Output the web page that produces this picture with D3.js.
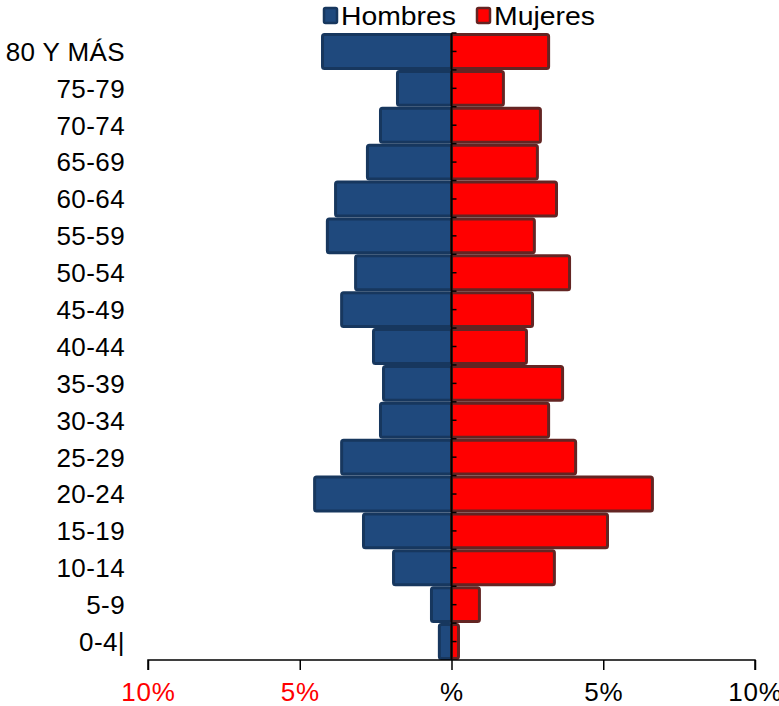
<!DOCTYPE html>
<html><head><meta charset="utf-8">
<script src="https://cdn.jsdelivr.net/npm/d3@7"></script>
<style>body{margin:0;background:#fff}svg{display:block}text{font-family:"Liberation Sans",Arial,sans-serif}</style>
</head><body><svg id="c" width="779" height="706"></svg>
<script>
const categories = ["80 Y MÁS","75-79","70-74","65-69","60-64","55-59","50-54","45-49","40-44","35-39","30-34","25-29","20-24","15-19","10-14","5-9","0-4|"];
const hombres = [4.25,1.78,2.34,2.77,3.82,4.09,3.16,3.62,2.57,2.24,2.34,3.62,4.51,2.90,1.91,0.66,0.40];
const mujeres = [3.20,1.71,2.93,2.83,3.46,2.73,3.89,2.67,2.47,3.66,3.20,4.09,6.62,5.14,3.39,0.92,0.23];
const xTicks = [-10,-5,0,5,10];
const xTickLabels = ["10%","5%","%","5%","10%"];
const seriesNames = ["Hombres","Mujeres"];

const svg = d3.select("#c");
const x = d3.scaleLinear().domain([-10,10]).range([148,755]);
const y = d3.scaleBand().domain(categories).range([33,660]).padding(0);

const colors = {Hombres:{fill:"#1F497D",stroke:"#17375E"}, Mujeres:{fill:"#FF0000",stroke:"#632523"}};

// bars
svg.append("g").selectAll("rect.h").data(categories).join("rect")
  .attr("x", (d,i)=>x(-hombres[i])).attr("y", d=>y(d)+1.5)
  .attr("width", (d,i)=>x(0)-x(-hombres[i])).attr("height", y.bandwidth()-3)
  .attr("rx",2)
  .attr("fill", colors.Hombres.fill).attr("stroke", colors.Hombres.stroke).attr("stroke-width",3);
svg.append("g").selectAll("rect.m").data(categories).join("rect")
  .attr("x", x(0)).attr("y", d=>y(d)+1.5)
  .attr("width", (d,i)=>x(mujeres[i])-x(0)).attr("height", y.bandwidth()-3)
  .attr("rx",2)
  .attr("fill", colors.Mujeres.fill).attr("stroke", colors.Mujeres.stroke).attr("stroke-width",3);

// center axis
const cg = svg.append("g");
cg.append("line").attr("x1",x(0)).attr("x2",x(0)).attr("y1",y.range()[0]).attr("y2",y.range()[1])
  .attr("stroke","#000").attr("stroke-width",2);
const tickYs = [];
categories.forEach(c=>{tickYs.push(y(c)); tickYs.push(y(c)+y.bandwidth()/2);});
cg.selectAll("line.t").data(tickYs).join("line")
  .attr("x1",x(0)).attr("x2",x(0)+5).attr("y1",d=>d).attr("y2",d=>d)
  .attr("stroke","#000").attr("stroke-width",1.5);

// category labels
svg.append("g").selectAll("text").data(categories).join("text")
  .attr("x",125).attr("y",d=>y(d)+y.bandwidth()/2).attr("dy","0.36em")
  .attr("text-anchor","end").attr("font-size",26).attr("letter-spacing",0.4).attr("fill","#000").text(d=>d);

// bottom axis
const axis = d3.axisBottom(x).tickValues(xTicks).tickSize(10).tickFormat((d,i)=>xTickLabels[i]);
const ag = svg.append("g").attr("transform","translate(0,660)").call(axis);
ag.select(".domain").attr("stroke","#000").attr("stroke-width",1.5).attr("d",`M${x(-10)},10V0H${x(10)}V10`);
ag.selectAll(".tick line").attr("stroke","#000").attr("stroke-width",1.5);
ag.selectAll(".tick text").attr("font-size",26).attr("y",23).attr("letter-spacing",0.8)
  .attr("font-family","'Liberation Sans',Arial,sans-serif")
  .attr("fill",(d,i)=>i<2?"#FF0000":"#000");

// legend
const leg = svg.append("g");
const legX = [323, 476];
const legW = [115, 101];
seriesNames.forEach((s,i)=>{
  leg.append("rect").attr("x",legX[i]+1).attr("y",8).attr("width",13).attr("height",15).attr("rx",1.5)
    .attr("fill",colors[s].fill).attr("stroke",colors[s].stroke).attr("stroke-width",2.5);
  leg.append("text").attr("x",legX[i]+18).attr("y",25).attr("font-size",25)
    .attr("textLength",legW[i]).attr("lengthAdjust","spacingAndGlyphs").attr("fill","#000").text(s);
});
</script></body></html>
